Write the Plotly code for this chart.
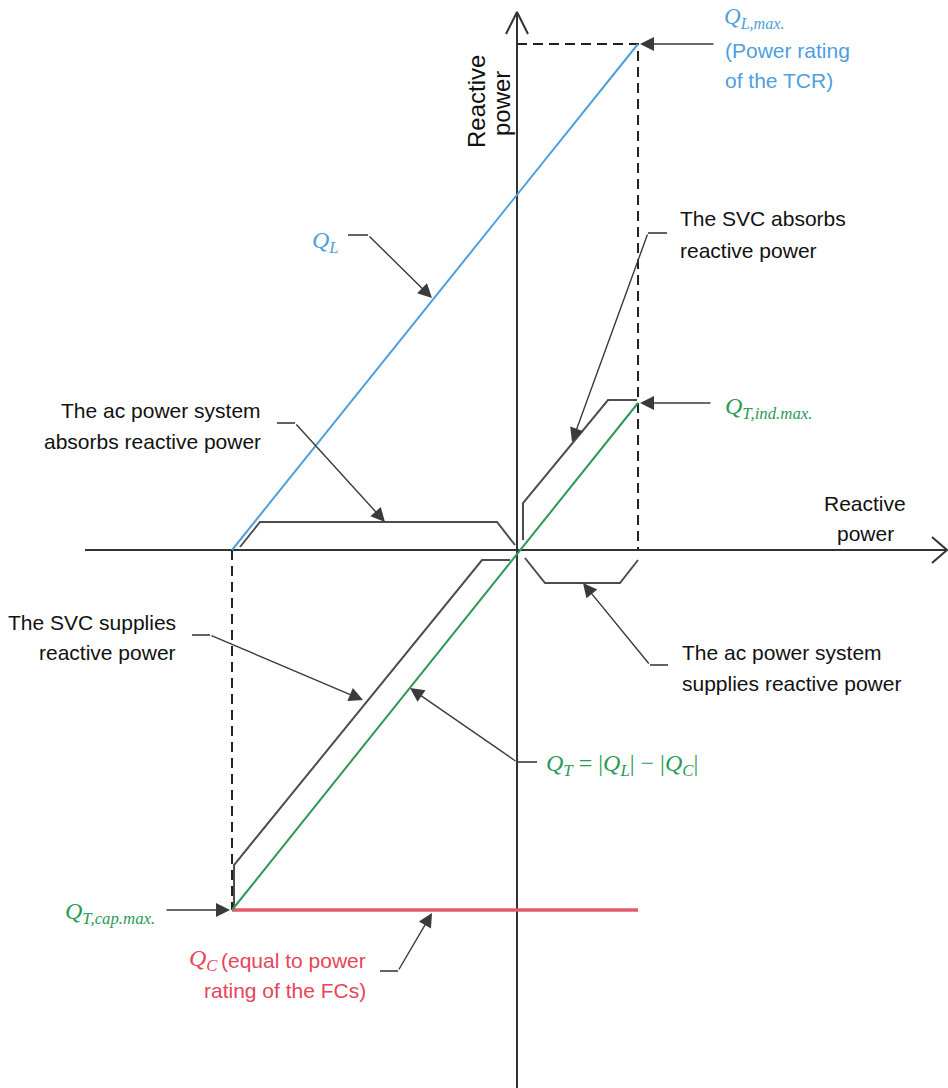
import plotly.graph_objects as go

# ---- operating characteristic of the FC-TCR static var compensator ----
# horizontal extent of the control range (capacitive limit .. inductive limit)
x_op = [-2.85, 1.21]
# reactive power drawn by the TCR: zero up to its rating Q_L,max
q_l = [0.0, 5.06]
# reactive power of the fixed capacitors (constant)
q_c = [-3.60, -3.60]
# net SVC output Q_T = |Q_L| - |Q_C|
q_t = [-3.60, 1.47]

# bracket outlines marking the four operating regions
br_svc_abs_x = [0.06, 0.06, 0.91, 1.20]
br_svc_abs_y = [0.10, 0.47, 1.50, 1.50]
br_ac_abs_x = [-2.77, -2.57, -0.20, -0.02]
br_ac_abs_y = [0.03, 0.28, 0.28, 0.05]
br_ac_sup_x = [0.08, 0.28, 1.03, 1.21]
br_ac_sup_y = [-0.08, -0.33, -0.33, -0.10]
br_svc_sup_x = [-2.83, -2.83, -0.35, -0.07]
br_svc_sup_y = [-3.57, -3.15, -0.10, -0.10]

BLUE = "#4f9fdc"
GREEN = "#2b9a57"
RED = "#e35a6b"
RED_TXT = "#e6455a"
AXIS = "#333333"
BRACKET = "#4d4d4d"
LEADER = "#3a3a3a"
SANS = "Arial, Liberation Sans, sans-serif"
SERIF = "Liberation Serif, DejaVu Serif, serif"

fig = go.Figure()


def line(xs, ys, color, width, dash=None):
    fig.add_trace(go.Scatter(
        x=xs, y=ys, mode="lines", hoverinfo="skip",
        line=dict(color=color, width=width, dash=dash),
    ))


# axes with open chevron arrowheads
line([-4.32, 4.30], [0, 0], AXIS, 2)
line([4.15, 4.30, 4.15], [0.13, 0, -0.13], AXIS, 2)
line([0, 0], [-5.40, 5.37], AXIS, 2)
line([-0.11, 0, 0.11], [5.16, 5.38, 5.16], AXIS, 2)

# dashed guides to the limits
line([0, x_op[1], x_op[1]], [q_l[1], q_l[1], 0], "#222222", 2, "10px,6px")
line([x_op[0], x_op[0]], [0, q_c[0]], "#222222", 2, "10px,6px")

# region brackets
for bx, by in [(br_svc_abs_x, br_svc_abs_y), (br_ac_abs_x, br_ac_abs_y),
               (br_ac_sup_x, br_ac_sup_y), (br_svc_sup_x, br_svc_sup_y)]:
    line(bx, by, BRACKET, 2)

# characteristic lines
line(x_op, q_c, RED, 3.5)
line(x_op, q_l, BLUE, 2)
line(x_op, q_t, GREEN, 2)

annotations = []


def arrow(tail, tip):
    annotations.append(dict(
        x=tip[0], y=tip[1], ax=tail[0], ay=tail[1],
        xref="x", yref="y", axref="x", ayref="y",
        text="", showarrow=True, arrowhead=2, arrowsize=2.0,
        arrowwidth=1.4, arrowcolor=LEADER, standoff=0,
    ))


def leader(stub, bend, tip):
    line([stub[0], bend[0]], [stub[1], bend[1]], LEADER, 1.6)
    arrow(bend, tip)


# straight pointers to the limits
arrow((1.98, q_l[1]), (1.23, q_l[1]))
arrow((1.95, q_t[1]), (1.23, q_t[1]))
arrow((-3.52, q_c[0]), (-2.87, q_c[0]))

# bent leaders from the labels
leader((-1.69, 3.15), (-1.49, 3.15), (-0.85, 2.52))   # Q_L
leader((1.50, 3.17), (1.31, 3.17), (0.55, 1.08))      # SVC absorbs
leader((-2.40, 1.27), (-2.22, 1.27), (-1.32, 0.28))   # ac system absorbs
leader((1.51, -1.15), (1.33, -1.15), (0.66, -0.33))   # ac system supplies
leader((-3.25, -0.85), (-3.07, -0.85), (-1.54, -1.50))  # SVC supplies
leader((0.20, -2.12), (0.0, -2.12), (-1.07, -1.38))   # Q_T
leader((-1.37, -4.21), (-1.19, -4.21), (-0.85, -3.63))  # Q_C


def label(x, y, text, anchor="left", color="#111111", family=SANS, size=21, angle=0):
    annotations.append(dict(
        x=x, y=y, xref="x", yref="y", text=text, showarrow=False,
        xanchor=anchor, yanchor="middle", textangle=angle,
        font=dict(family=family, size=size, color=color),
    ))


# plain-text descriptions
label(1.61, 3.32, "The SVC absorbs")
label(1.61, 3.00, "reactive power")
label(-2.54, 1.40, "The ac power system", "right")
label(-2.54, 1.09, "absorbs reactive power", "right")
label(3.48, 0.47, "Reactive", "center")
label(3.48, 0.17, "power", "center")
label(1.63, -1.02, "The ac power system")
label(1.63, -1.33, "supplies reactive power")
label(-3.39, -0.72, "The SVC supplies", "right")
label(-3.39, -1.02, "reactive power", "right")
label(-0.41, 4.48, "Reactive", "center", size=24, angle=-90)
label(-0.16, 4.46, "power", "center", size=24, angle=-90)

# coloured quantity labels
label(2.05, 5.32, "<i>Q</i><sub><i>L,max.</i></sub>", color=BLUE, family=SERIF, size=23)
label(2.06, 5.00, "(Power rating", color=BLUE)
label(2.06, 4.70, "of the TCR)", color=BLUE)
label(-1.92, 3.08, "<i>Q</i><sub><i>L</i></sub>", "center", color=BLUE, family=SERIF, size=24)
label(2.06, 1.42, "<i>Q</i><sub><i>T,ind.max.</i></sub>", color=GREEN, family=SERIF, size=24)
label(0.27, -2.15,
      "<i>Q</i><sub><i>T</i></sub> = |<i>Q</i><sub><i>L</i></sub>| \u2212 |<i>Q</i><sub><i>C</i></sub>|",
      color=GREEN, family=SERIF, size=24)
label(-3.60, -3.63, "<i>Q</i><sub><i>T,cap.max.</i></sub>", "right", color=GREEN, family=SERIF, size=24)
label(-2.97, -4.10, "<i>Q</i><sub><i>C</i></sub>", "right", color=RED_TXT, family=SERIF, size=24)
label(-1.49, -4.10, "(equal to power", "right", color=RED_TXT)
label(-1.49, -4.40, "rating of the FCs)", "right", color=RED_TXT)

fig.update_layout(
    width=948, height=1088, autosize=False,
    margin=dict(l=0, r=0, t=0, b=0, pad=0),
    paper_bgcolor="white", plot_bgcolor="white",
    showlegend=False,
    xaxis=dict(range=[-5.17, 4.31], visible=False, fixedrange=True),
    yaxis=dict(range=[-5.38, 5.50], visible=False, fixedrange=True),
    annotations=annotations,
)

fig.write_html("out.html")
